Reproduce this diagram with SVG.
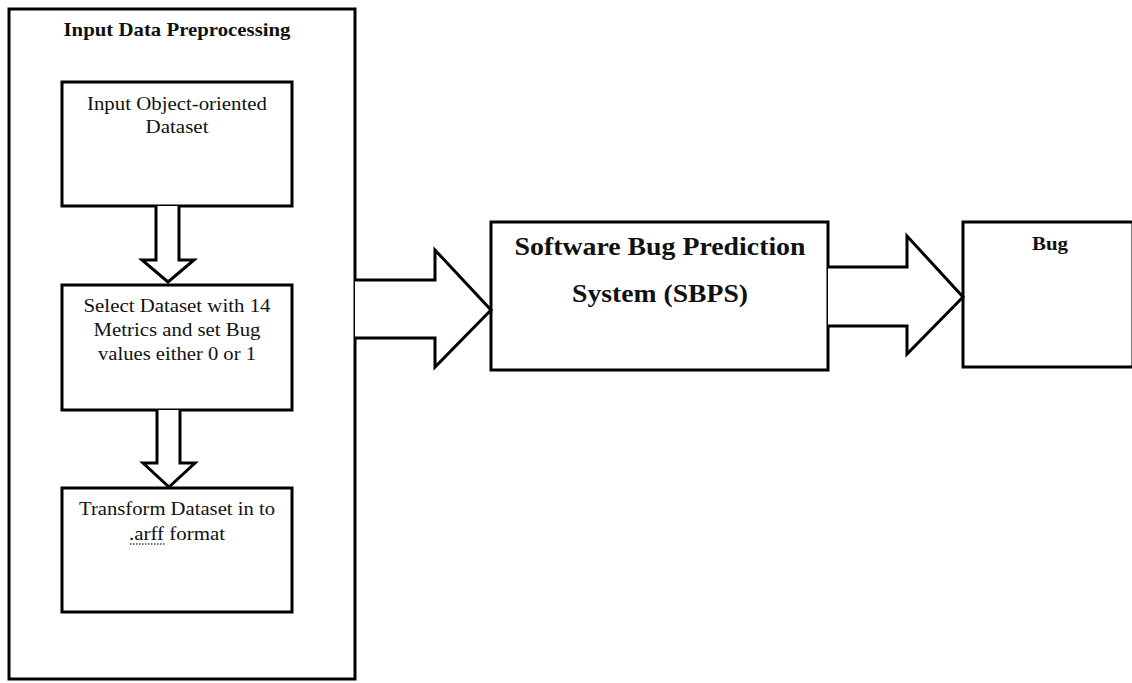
<svg xmlns="http://www.w3.org/2000/svg" width="1132" height="683" viewBox="0 0 1132 683">
<style>
.box{fill:#fff;stroke:#000;stroke-width:3}
.arrow{fill:#fff;stroke:#000;stroke-width:3;stroke-linejoin:miter}
.t{font-family:"Liberation Serif","Times New Roman",serif;font-size:19px;fill:#111;text-anchor:middle}
.b{font-family:"Liberation Serif","Times New Roman",serif;font-weight:bold;fill:#111;text-anchor:middle}
</style>
<rect width="1132" height="683" fill="#fff"/>
<g id="preprocessing">
<rect class="box" x="9" y="9" width="346" height="670"/>
<text class="b" x="177" y="36" font-size="19" textLength="227" lengthAdjust="spacingAndGlyphs">Input Data Preprocessing</text>
</g>
<g id="input-dataset">
<rect class="box" x="62" y="82" width="230" height="124"/>
<text class="t" x="177" y="110" textLength="180" lengthAdjust="spacingAndGlyphs">Input Object-oriented</text>
<text class="t" x="177" y="133" textLength="63" lengthAdjust="spacingAndGlyphs">Dataset</text>
</g>
<g id="select-dataset">
<rect class="box" x="62" y="285" width="230" height="125"/>
<text class="t" x="177" y="312" textLength="187" lengthAdjust="spacingAndGlyphs">Select Dataset with 14</text>
<text class="t" x="177" y="336" textLength="167" lengthAdjust="spacingAndGlyphs">Metrics and set Bug</text>
<text class="t" x="177" y="360" textLength="158" lengthAdjust="spacingAndGlyphs">values either 0 or 1</text>
</g>
<g id="transform-dataset">
<rect class="box" x="62" y="488" width="230" height="124"/>
<text class="t" x="177" y="515" textLength="196" lengthAdjust="spacingAndGlyphs">Transform Dataset in to</text>
<text class="t" x="177" y="540" textLength="96" lengthAdjust="spacingAndGlyphs">.arff format</text>
<line x1="130" y1="544" x2="166" y2="544" stroke="#444" stroke-width="1.5" stroke-dasharray="1.5,1.5"/>
</g>
<g id="sbps">
<rect class="box" x="491" y="222" width="337" height="148"/>
<text class="b" x="660" y="255" font-size="25" textLength="291" lengthAdjust="spacingAndGlyphs">Software Bug Prediction</text>
<text class="b" x="660" y="302" font-size="25" textLength="176" lengthAdjust="spacingAndGlyphs">System (SBPS)</text>
</g>
<g id="bug">
<rect class="box" x="963" y="222" width="170" height="145"/>
<text class="b" x="1050" y="250" font-size="18" textLength="36" lengthAdjust="spacingAndGlyphs">Bug</text>
</g>
<g id="connectors">
<path class="arrow" d="M156,206 L156,260 L142,260 L168,282 L194,260 L179,260 L179,206"/>
<path class="arrow" d="M157,410 L157,463 L143,463 L169,487 L195,463 L180,463 L180,410"/>
<path class="arrow" d="M355,280 L435,280 L435,250 L491,310 L435,367 L435,338 L355,338"/>
<path class="arrow" d="M828,267 L907,267 L907,236 L963,297 L907,354 L907,326 L828,326"/>
</g>
</svg>
